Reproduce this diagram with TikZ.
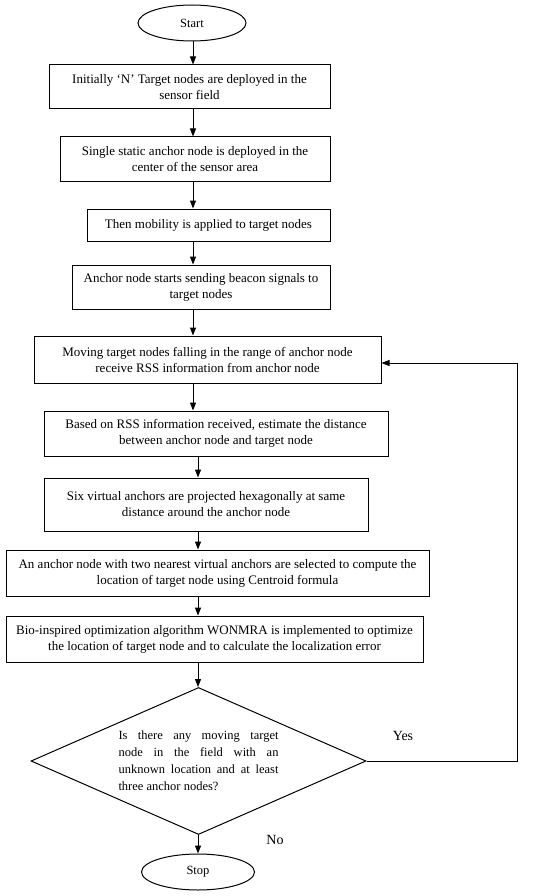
\documentclass[tikz,border=0pt]{standalone}
\usepackage{fontspec}
\setmainfont{Liberation Serif}
\usetikzlibrary{shapes.geometric,arrows.meta}
\begin{document}
\begin{tikzpicture}[x=1pt,y=-1pt,
  box/.style={draw, line width=1pt, rectangle, inner sep=0pt, align=center, font=\fontsize{13}{16}\selectfont},
  term/.style={draw, ellipse, line width=1pt, inner sep=0pt, font=\fontsize{12.5}{15}\selectfont},
  lbl/.style={inner sep=0pt, font=\fontsize{14}{16}\selectfont},
  arr/.style={line width=1pt, -{Triangle[length=8pt,width=6pt]}}]
\useasboundingbox (0,0) rectangle (550,896);
\coordinate (ax1) at (193,0);
\coordinate (ax2) at (198,0);
\coordinate (rx) at (517,0);

\node[term, minimum width=108, minimum height=36] (start) at (192,23) {Start};
\node[box, minimum width=281, minimum height=44] (b1) at (189.5,87) {Initially ‘N’ Target nodes are deployed in the\\ sensor field};
\node[box, minimum width=270, minimum height=45] (b2) at (195,159.5) {Single static anchor node is deployed in the\\ center of the sensor area};
\node[box, minimum width=243, minimum height=32] (b3) at (208.5,225) {Then mobility is applied to target nodes};
\node[box, minimum width=258, minimum height=44] (b4) at (201,287) {Anchor node starts sending beacon signals to\\ target nodes};
\node[box, minimum width=347, minimum height=47] (b5) at (207.5,359.5) {Moving target nodes falling in the range of anchor node\\ receive RSS information from anchor node};
\node[box, minimum width=344, minimum height=45] (b6) at (216,433.5) {Based on RSS information received, estimate the distance\\ between anchor node and target node};
\node[box, minimum width=324, minimum height=53] (b7) at (206,504.5) {Six virtual anchors are projected hexagonally at same\\ distance around the anchor node};
\node[box, minimum width=423, minimum height=46] (b8) at (217.5,573) {An anchor node with two nearest virtual anchors are selected to compute the\\ location of target node using Centroid formula};
\node[box, minimum width=417, minimum height=46] (b9) at (214.5,639) {Bio-inspired optimization algorithm WONMRA is implemented to optimize\\ the location of target node and to calculate the localization error};
\node[draw, diamond, aspect=2.28, minimum width=335, minimum height=147, inner sep=0pt, line width=1pt,
      text width=160, align=justify, font=\fontsize{12.5}{17}\selectfont] (dec) at (198.5,761)
  {Is there any moving target\linebreak node in the field with an\linebreak unknown location and at least\linebreak three anchor nodes?};
\node[term, minimum width=113, minimum height=36] (stop) at (198,872) {Stop};
\node[lbl] (yes) at (403,736) {Yes};
\node[lbl] (no) at (275,840) {No};

\draw[arr] (start.south -| ax1) -- (b1.north -| ax1);
\draw[arr] (b1.south -| ax1) -- (b2.north -| ax1);
\draw[arr] (b2.south -| ax1) -- (b3.north -| ax1);
\draw[arr] (b3.south -| ax1) -- (b4.north -| ax1);
\draw[arr] (b4.south -| ax1) -- (b5.north -| ax1);
\draw[arr] (b5.south -| ax1) -- (b6.north -| ax1);
\draw[arr] (b6.south -| ax2) -- (b7.north -| ax2);
\draw[arr] (b7.south -| ax2) -- (b8.north -| ax2);
\draw[arr] (b8.south -| ax2) -- (b9.north -| ax2);
\draw[arr] (b9.south -| ax2) -- (dec.north -| ax2);
\draw[arr] (dec.south -| ax2) -- (stop.north -| ax2);
\draw[arr] (dec.east) -- (dec.east -| rx) |- ([yshift=-3.5pt]b5.east);
\end{tikzpicture}
\end{document}
